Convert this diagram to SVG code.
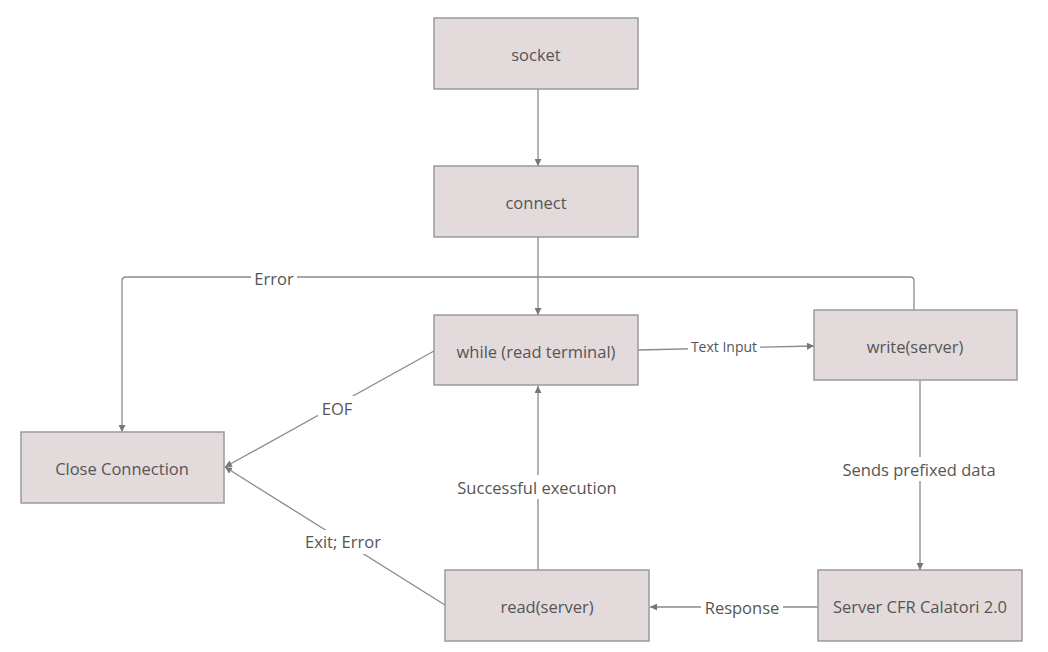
<svg xmlns="http://www.w3.org/2000/svg" width="1048" height="652" viewBox="0 0 1048 652">
<style>
.box{fill:#e2dadb;stroke:#9a9a9a;stroke-width:1.5}
.t{font-family:"Open Sans","Noto Sans",sans-serif;font-size:16.5px;fill:#555;text-anchor:middle;dominant-baseline:central}
.lbl{font-family:"Open Sans","Noto Sans",sans-serif;font-size:16.5px;fill:#555;text-anchor:middle;dominant-baseline:central}
.sm{font-size:14px}
.c{fill:none;stroke:#8a8a8a;stroke-width:1.3}
.bg{fill:#fff}
</style>
<defs>
<marker id="ah" viewBox="0 0 10 10" refX="10" refY="5" markerWidth="7" markerHeight="7" orient="auto" markerUnits="userSpaceOnUse">
<path d="M0,0 L10,5 L0,10 z" fill="#777"/>
</marker>
</defs>
<rect width="1048" height="652" fill="#fff"/>
<g id="connectors">
<line class="c" x1="538" y1="89" x2="538" y2="166" marker-end="url(#ah)"/>
<line class="c" x1="538" y1="237" x2="538" y2="315" marker-end="url(#ah)"/>
<path class="c" d="M914,310 L914,281 Q914,277 910,277 L126,277 Q122,277 122,281 L122,432" marker-end="url(#ah)"/>
<rect class="bg" x="251" y="267" width="46" height="22"/>
<text class="lbl" x="274" y="278">Error</text>
<line class="c" x1="638" y1="350" x2="814" y2="346" marker-end="url(#ah)"/>
<rect class="bg" x="688" y="338" width="72" height="18"/>
<text class="lbl sm" x="724" y="346">Text Input</text>
<line class="c" x1="434" y1="351" x2="225" y2="467" marker-end="url(#ah)"/>
<rect class="bg" x="318" y="396" width="38" height="24"/>
<text class="lbl" x="337" y="408">EOF</text>
<line class="c" x1="445" y1="605" x2="225" y2="467" marker-end="url(#ah)"/>
<rect class="bg" x="298" y="530" width="92" height="24"/>
<text class="lbl" x="343" y="541">Exit; Error</text>
<line class="c" x1="920" y1="380" x2="920" y2="570" marker-end="url(#ah)"/>
<rect class="bg" x="836" y="457" width="168" height="24"/>
<text class="lbl" x="919" y="469">Sends prefixed data</text>
<line class="c" x1="818" y1="607" x2="650" y2="607" marker-end="url(#ah)"/>
<rect class="bg" x="701" y="595" width="82" height="24"/>
<text class="lbl" x="742" y="607">Response</text>
<line class="c" x1="538" y1="575" x2="538" y2="386" marker-end="url(#ah)"/>
<rect class="bg" x="454" y="475" width="166" height="24"/>
<text class="lbl" x="537" y="487">Successful execution</text>
</g>
<g id="socket"><rect class="box" x="434" y="18" width="204" height="71"/><text class="t" x="536" y="54">socket</text></g>
<g id="connect"><rect class="box" x="434" y="166" width="204" height="71"/><text class="t" x="536" y="202">connect</text></g>
<g id="while"><rect class="box" x="434" y="315" width="204" height="70"/><text class="t" x="536" y="351">while (read terminal)</text></g>
<g id="write"><rect class="box" x="814" y="310" width="203" height="70"/><text class="t" x="915" y="346">write(server)</text></g>
<g id="close"><rect class="box" x="21" y="432" width="203" height="71"/><text class="t" x="122" y="468">Close Connection</text></g>
<g id="read"><rect class="box" x="445" y="570" width="204" height="71"/><text class="t" x="547" y="606">read(server)</text></g>
<g id="server"><rect class="box" x="818" y="570" width="204" height="71"/><text class="t" x="920" y="606">Server CFR Calatori 2.0</text></g>
</svg>
